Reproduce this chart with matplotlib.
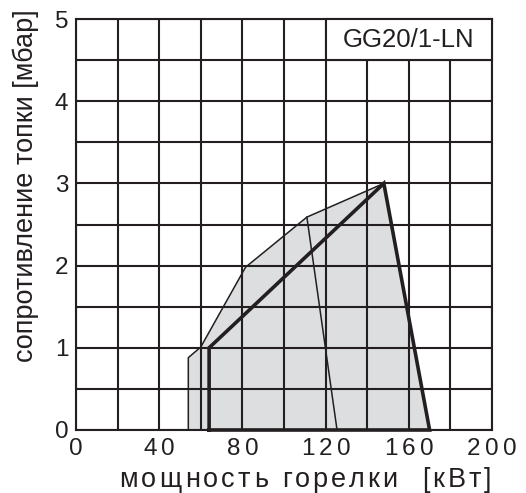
import numpy as np
import matplotlib
matplotlib.use('Agg')
import matplotlib.pyplot as plt
from matplotlib.patches import Polygon, Rectangle
from matplotlib.font_manager import FontProperties

plt.rcParams['font.family'] = ['Liberation Sans', 'DejaVu Sans']

# burner working field GG20/1-LN
outer_x = [54, 54, 60, 81.5, 111, 148, 170]
outer_y = [0, 0.88, 1.01, 1.98, 2.59, 3.0, 0]
thick_x = [64, 64, 148, 170, 64]
thick_y = [0, 1.0, 3.0, 0, 0]
split_x = [111, 125.5]
split_y = [2.59, 0]
min_x = [60, 60]
min_y = [0, 1.01]

x_labels = [0, 40, 80, 120, 160, 200]
y_labels = [0, 1, 2, 3, 4, 5]
model = 'GG20/1-LN'
xlabel = 'мощность горелки  [кВт]'
ylabel = 'сопротивление топки [мбар]'

ink = '#231f20'
fill = '#dddee0'
W, H = 526, 493

fig = plt.figure(figsize=(W / 100, H / 100), dpi=100)
ax = fig.add_axes([76 / W, 1 - 430 / H, (492 - 76) / W, (430 - 19) / H])
ax.set_xlim(0, 200)
ax.set_ylim(0, 5)

# grid on top of the grey area
ax.set_axisbelow(False)
ax.set_xticks(np.arange(0, 201, 20))
ax.set_yticks(np.arange(0, 5.01, 0.5))
ax.grid(True, color=ink, lw=1.5)
ax.tick_params(length=0, labelbottom=False, labelsize=17.5, pad=5.5, colors=ink)
ax.set_yticklabels([str(int(v)) if v == int(v) else '' for v in np.arange(0, 5.01, 0.5)])
for s in ax.spines.values():
    s.set_color(ink)
    s.set_linewidth(1.5)

ax.add_patch(Polygon(list(zip(outer_x, outer_y)), closed=True, facecolor=fill,
                     edgecolor='none', zorder=1))
ax.plot(outer_x, outer_y, color=ink, lw=1.1, zorder=3, clip_on=False)
ax.plot(split_x, split_y, color=ink, lw=1.1, zorder=3)
ax.plot(min_x, min_y, color=ink, lw=1.1, zorder=3)
ax.plot(thick_x, thick_y, color=ink, lw=2.6, zorder=3.5, clip_on=False,
        solid_joinstyle='miter')

ax.add_patch(Rectangle((120, 4.5), 80, 0.5, facecolor='white', edgecolor=ink,
                       lw=1.5, zorder=4, clip_on=False))
ax.text(160, 4.75, model, ha='center', va='center', fontsize=18.5, color=ink, zorder=5)

# letter-spaced text (the original uses wide tracking)
renderer = fig.canvas.get_renderer()


def text_width(s, fp):
    w_bar = renderer.get_text_width_height_descent('|', fp, ismath=False)[0]
    w = renderer.get_text_width_height_descent(s + '|', fp, ismath=False)[0]
    return w - w_bar


def spaced(s, x, y, size, track, align='center'):
    fp = FontProperties(family='Liberation Sans', size=size)
    total = text_width(s, fp) + track * (len(s) - 1)
    if align == 'center':
        x0 = x - total / 2
    elif align == 'right':
        x0 = x - total
    else:
        x0 = x
    for i, ch in enumerate(s):
        if ch == ' ':
            continue
        xi = x0 + text_width(s[:i], fp) + track * i
        fig.text(xi / W, 1 - y / H, ch, fontproperties=fp, color=ink,
                 ha='left', va='baseline')


for v in x_labels:
    px = 76 + v * (492 - 76) / 200
    spaced(str(v), px, 455, 17.5, 4.5)

spaced(xlabel, 491, 487, 19.5, 3.2, align='right')

fig.text(33 / W, 1 - 9 / H, ylabel, rotation=90, rotation_mode='anchor',
         ha='right', va='baseline', fontsize=19.5, color=ink)

fig.savefig('out.png', dpi=100)
